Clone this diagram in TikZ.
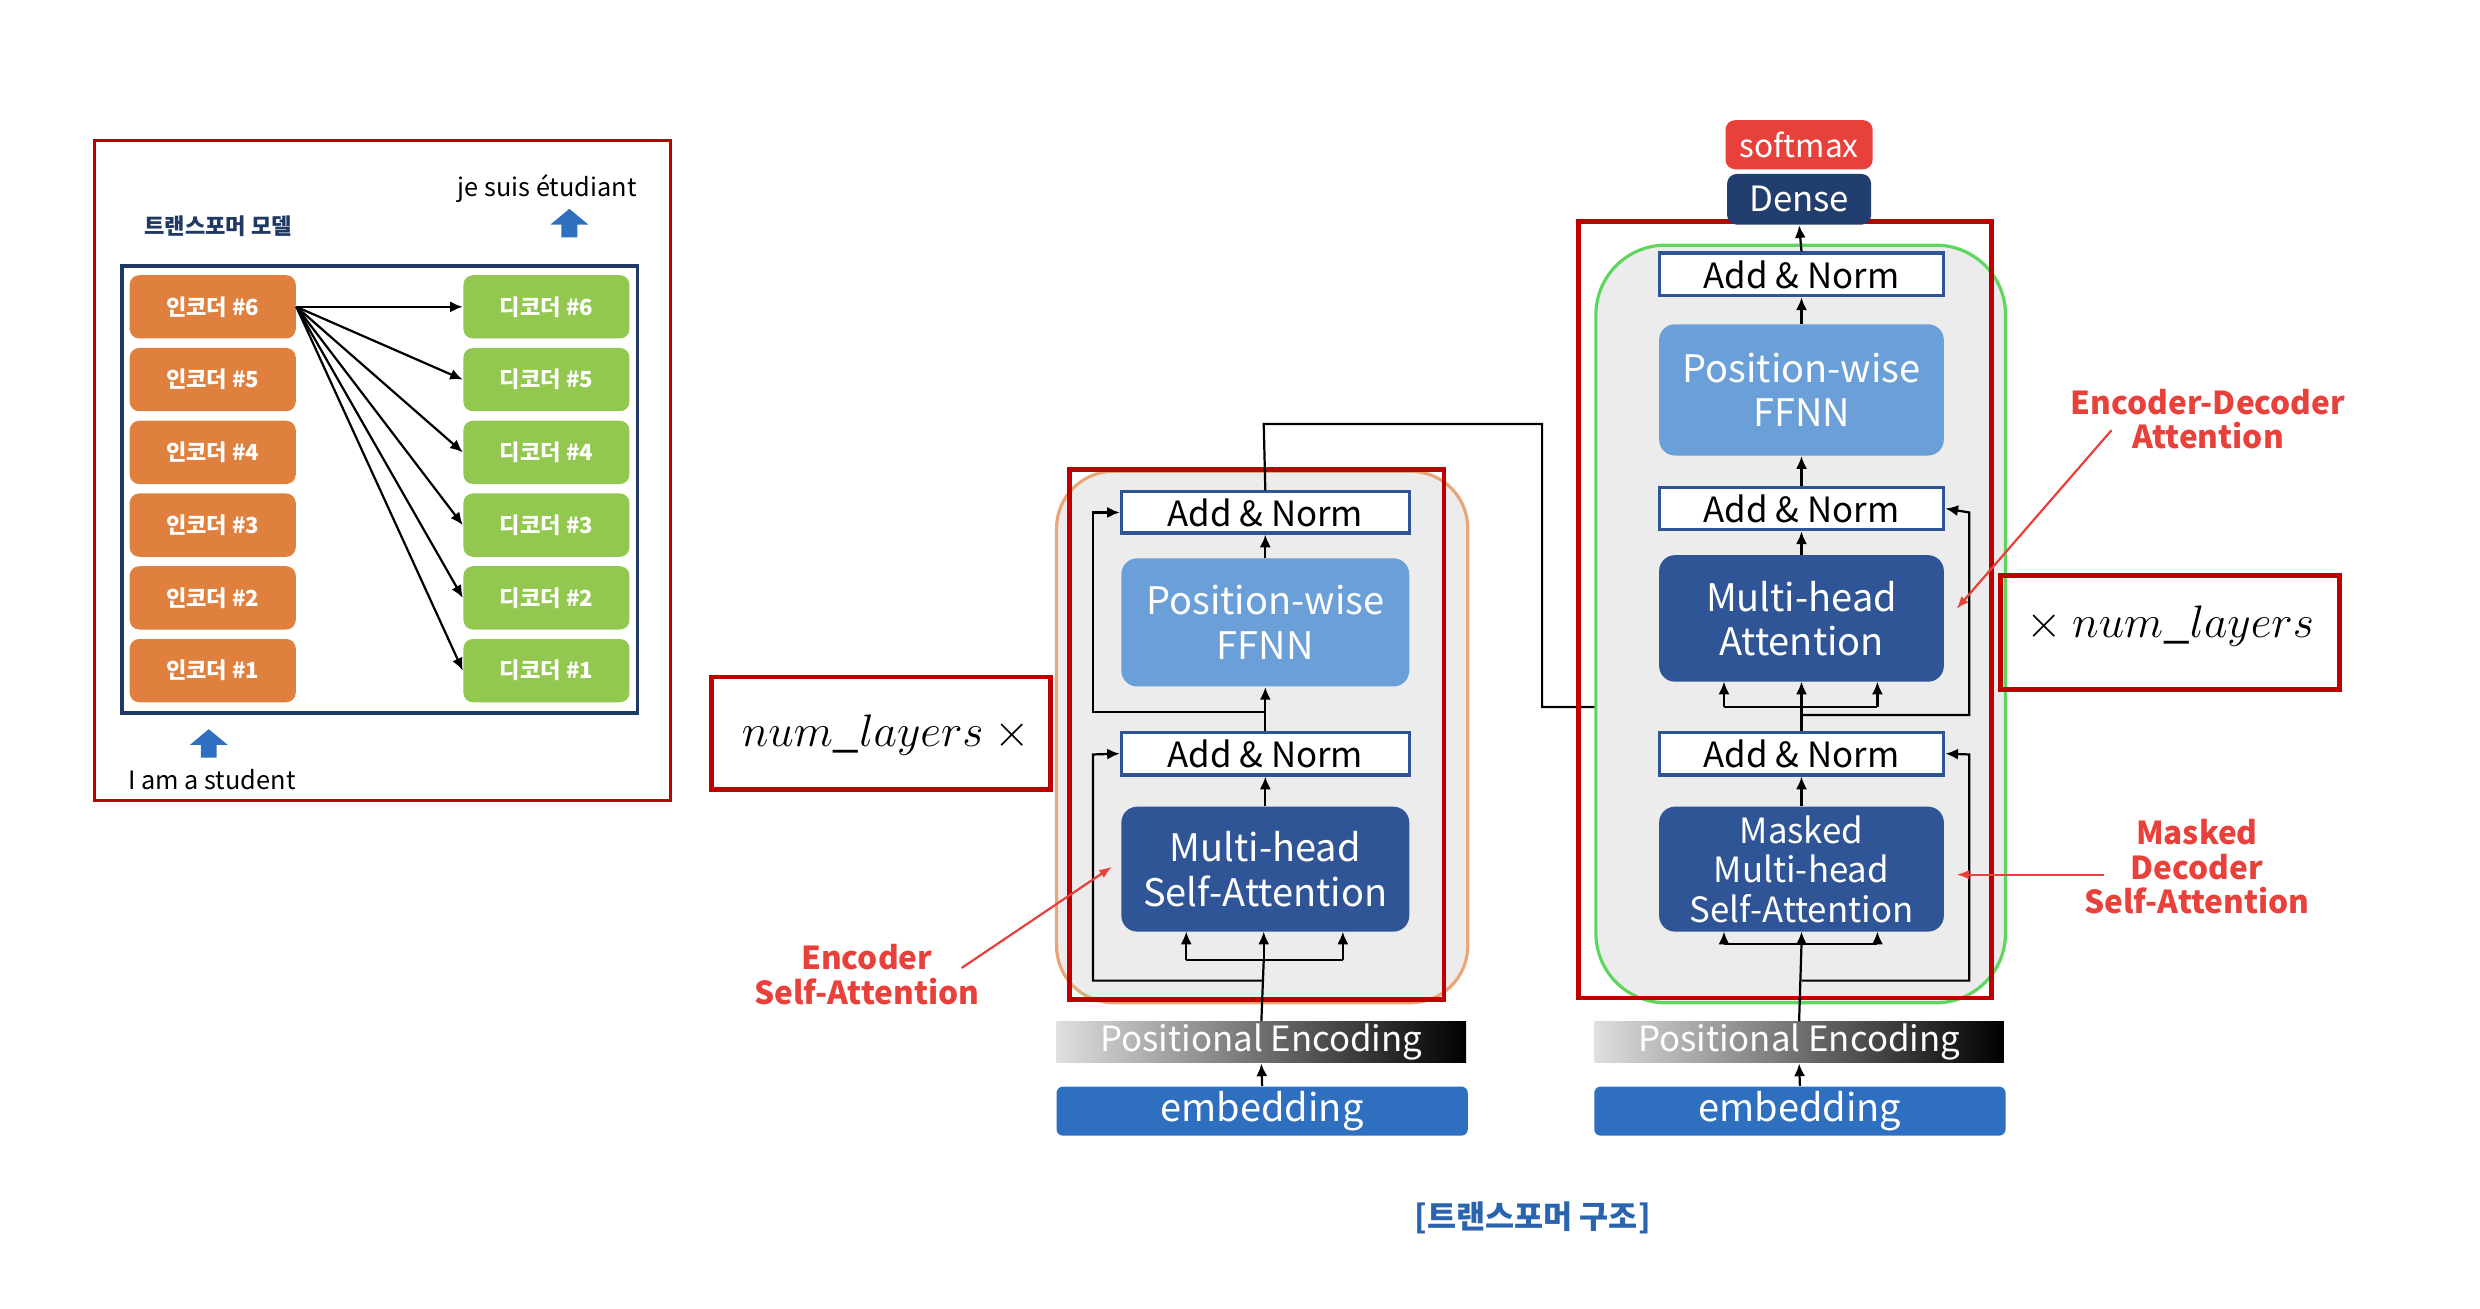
\documentclass[tikz,border=0pt]{standalone}
\usepackage{fontspec}
\setmainfont{Noto Sans CJK KR}
\usetikzlibrary{fit,arrows.meta}
\definecolor{rd}{HTML}{C00000}
\definecolor{lbl}{HTML}{E8413C}
\definecolor{navy}{HTML}{1F3864}
\definecolor{dk}{HTML}{2F5597}
\definecolor{lt}{HTML}{6A9FD8}
\definecolor{emb}{HTML}{2E6FC0}
\definecolor{org}{HTML}{E0803F}
\definecolor{grn}{HTML}{92C84F}
\newcommand{\bxn}[8]{\node[fit={(#2,#3)(#4,#5)},inner sep=0pt,#6] (#1) {};
 \node[align=center,inner sep=0pt,#7] at (#1.center) {#8};}
\begin{document}
\begin{tikzpicture}[x=0.5pt,y=-0.5pt,
 an/.style={draw=dk,line width=1pt,fill=white},
 ant/.style={font=\fontsize{11}{11}\selectfont},
 big/.style={rounded corners=5pt},
 bigt/.style={text=white,font=\fontsize{12}{14}\selectfont},
 enc/.style={rounded corners=3pt,fill=org},
 dec/.style={rounded corners=3pt,fill=grn},
 smt/.style={text=white,font=\bfseries\fontsize{7}{7}\selectfont},
 ar/.style={-{Latex[length=4pt,width=3.5pt]},line width=0.7pt},
 ln/.style={line width=0.7pt},
 redl/.style={text=lbl,font=\bfseries\fontsize{10}{11}\selectfont,align=center},
 rbox/.style={draw=rd,line width=1.5pt},
 up/.style={fill=emb}]
\useasboundingbox (0,0) rectangle (1568,827);
% left panel
\draw[rbox,line width=1pt] (60,89) rectangle (424,506);
\draw[navy,line width=1.2pt] (77,168) rectangle (403,451);
\node[text=navy,font=\bfseries\fontsize{7}{7}\selectfont] (tm) at (138,143) {트랜스포머 모델};
\node[font=\fontsize{8}{8}\selectfont] (jsu) at (346,119) {je suis étudiant};
\node[font=\fontsize{8}{8}\selectfont] (iam) at (134,493) {I am a student};
\fill[up] (360,132)--(372,142)--(365,142)--(365,150)--(355,150)--(355,142)--(348,142)--cycle;
\fill[up] (132,461)--(144,471)--(137,471)--(137,479)--(127,479)--(127,471)--(120,471)--cycle;
\foreach \i/\y in {6/194,5/240,4/286,3/332,2/378,1/424}{
 \bxn{e\i}{82}{\y-20}{187}{\y+20}{enc}{smt}{인코더 \#\i}
 \bxn{d\i}{293}{\y-20}{398}{\y+20}{dec}{smt}{디코더 \#\i}
}
\foreach \i in {6,5,4,3,2,1}{\draw[ar] (e6.east) -- (d\i.west);}
% encoder
\draw[org!70,line width=1pt,fill=gray!15,rounded corners=18pt] (668,298) rectangle (928,634);
\draw[rbox] (676,297) rectangle (913,632);
\bxn{ea2}{709}{311}{891}{337}{an}{ant}{Add \& Norm}
\bxn{ef}{709}{353}{891}{434}{big,fill=lt}{bigt}{Position-wise\\FFNN}
\bxn{ea1}{709}{463}{891}{490}{an}{ant}{Add \& Norm}
\bxn{em}{709}{510}{891}{589}{big,fill=dk}{bigt}{Multi-head\\Self-Attention}
\bxn{ep}{668}{646}{927}{672}{left color=gray!25,right color=black}{text=white,font=\fontsize{11}{11}\selectfont}{Positional Encoding}
\bxn{ee}{668}{687}{928}{718}{fill=emb,rounded corners=2pt}{text=white,font=\fontsize{12}{12}\selectfont}{embedding}
\draw[ar] (ee.north) -- (ep.south);
\draw[ln] (ep.north) -- (799,607);
\draw[ln] (750,607) -- (849,607);
\foreach \x in {750,799,849}{\draw[ar] (\x,607) -- (\x,589);}
\draw[ar] (799,620) -- (691,620) -- (691,477) -- (ea1.west);
\draw[ar] (em.north) -- (ea1.south);
\draw[ar] (ea1.north) -- (ef.south);
\draw[ar] (799,450) -- (691,450) -- (691,324) -- (ea2.west);
\draw[ar] (ef.north) -- (ea2.south);
\draw[ln] (ea2.north) -- (799,268) -- (975,268) -- (975,447) -- (1139,447);
\draw[rbox] (450,428) rectangle (664,499);
\node (nl1) at (560,465) {\fontsize{15}{15}\selectfont$num\_layers\ \times$};
\node[redl] (esa) at (548,616) {Encoder\\Self-Attention};
\draw[lbl,-{Latex[length=4pt]},line width=0.7pt] (608,612) -- (703,548);
% decoder
\draw[green!60!gray!80,line width=1pt,fill=gray!15,rounded corners=22pt] (1009,155) rectangle (1268,634);
\draw[rbox] (998,140) rectangle (1259,631);
\bxn{da3}{1049}{160}{1229}{187}{an}{ant}{Add \& Norm}
\bxn{df}{1049}{205}{1229}{288}{big,fill=lt}{bigt}{Position-wise\\FFNN}
\bxn{da2}{1049}{308}{1229}{335}{an}{ant}{Add \& Norm}
\bxn{dm}{1049}{351}{1229}{431}{big,fill=dk}{bigt}{Multi-head\\Attention}
\bxn{da1}{1049}{463}{1229}{490}{an}{ant}{Add \& Norm}
\bxn{dmm}{1049}{510}{1229}{589}{big,fill=dk}{text=white,font=\fontsize{11}{12.5}\selectfont}{Masked\\Multi-head\\Self-Attention}
\bxn{dp}{1008}{646}{1267}{672}{left color=gray!25,right color=black}{text=white,font=\fontsize{11}{11}\selectfont}{Positional Encoding}
\bxn{de}{1008}{687}{1268}{718}{fill=emb,rounded corners=2pt}{text=white,font=\fontsize{12}{12}\selectfont}{embedding}
\bxn{dn}{1092}{110}{1183}{142}{fill=navy!80!dk,rounded corners=3pt}{text=white,font=\fontsize{11}{11}\selectfont}{Dense}
\bxn{sm}{1091}{76}{1184}{107}{fill=lbl,rounded corners=3pt}{text=white,font=\fontsize{10}{10}\selectfont}{softmax}
\draw[ar] (de.north) -- (dp.south);
\draw[ln] (dp.north) -- (1139,597);
\draw[ln] (1090,597) -- (1187,597);
\foreach \x in {1090,1139,1187}{\draw[ar] (\x,597) -- (\x,589);}
\draw[ar] (1139,620) -- (1245,620) -- (1245,477) -- (da1.east);
\draw[ar] (dmm.north) -- (da1.south);
\draw[ln] (da1.north) -- (1139,447);
\draw[ln] (1090,447) -- (1187,447);
\foreach \x in {1090,1139,1187}{\draw[ar] (\x,447) -- (\x,431);}
\draw[ar] (1139,452) -- (1245,452) -- (1245,324) -- (da2.east);
\draw[ar] (dm.north) -- (da2.south);
\draw[ar] (da2.north) -- (df.south);
\draw[ar] (df.north) -- (da3.south);
\draw[ar] (da3.north) -- (dn.south);
\draw[rbox] (1265,364) rectangle (1479,436);
\node (nl2) at (1372,396) {\fontsize{15}{15}\selectfont$\times\ num\_layers$};
\node[redl] (eda) at (1396,265) {Encoder-Decoder\\Attention};
\draw[lbl,-{Latex[length=4pt]},line width=0.7pt] (1335,272) -- (1237,385);
\node[redl] (mds) at (1389,548) {Masked\\Decoder\\Self-Attention};
\draw[lbl,-{Latex[length=4pt]},line width=0.7pt] (1330,553) -- (1237,553);
\node[text=emb!80!navy,font=\bfseries\fontsize{10}{10}\selectfont] (cap) at (969,770) {[트랜스포머 구조]};
\end{tikzpicture}
\end{document}
